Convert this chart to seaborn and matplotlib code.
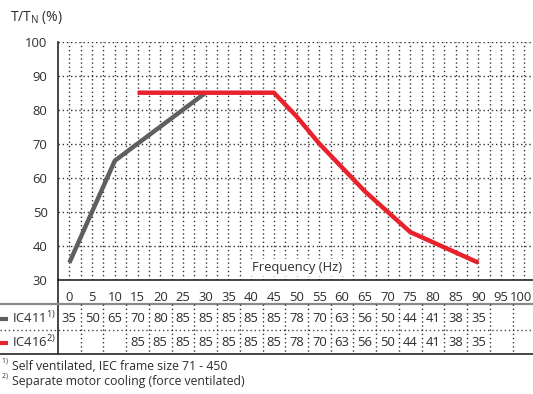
import numpy as np
import pandas as pd
import matplotlib
matplotlib.use("Agg")
import matplotlib.pyplot as plt
import matplotlib.transforms as mtransforms
from matplotlib.lines import Line2D
import seaborn as sns

# Data
table_freq = [0, 5, 10, 15, 20, 25, 30, 35, 40, 45, 50, 55, 60, 65, 70, 75, 80, 85, 90]
ic411_table = [35, 50, 65, 70, 80, 85, 85, 85, 85, 85, 78, 70, 63, 56, 50, 44, 41, 38, 35]
ic416_table = [None, None, None, 85, 85, 85, 85, 85, 85, 85, 78, 70, 63, 56, 50, 44, 41, 38, 35]

# curves as drawn in the chart
ic411_freq = [0, 10, 30]
ic411_curve = [35, 65, 85]
ic416_freq = [15, 20, 25, 30, 35, 40, 45, 50, 55, 60, 65, 70, 75, 80, 85, 90]
ic416_curve = [85, 85, 85, 85, 85, 85, 85, 78, 70, 63, 56, 50, 44, 41, 38, 35]

x_ticks = list(range(0, 101, 5))
y_ticks = list(range(30, 101, 10))

GRAY = "#5f5f5f"
RED = "#e8212c"
DARK = "#262626"
TXT = "#2e2e2e"
FS = 9.4

sns.set_style("white")
plt.rcParams['font.family'] = ['Open Sans', 'DejaVu Sans']
plt.rcParams['mathtext.fontset'] = 'custom'
plt.rcParams['mathtext.rm'] = 'Open Sans'

W, H = 533, 394
fig = plt.figure(figsize=(W / 100, H / 100), dpi=100)


def fy(py):
    return 1 - py / H


def fx(px):
    return px / W


ax = fig.add_axes([fx(58), fy(279.7), fx(533 - 58), (279.7 - 41.7) / H])

df411 = pd.DataFrame({"freq": ic411_freq, "torque": ic411_curve})
df416 = pd.DataFrame({"freq": ic416_freq, "torque": ic416_curve})
sns.lineplot(data=df411, x="freq", y="torque", ax=ax, color=GRAY, lw=3.2,
             solid_capstyle="butt", zorder=3)
sns.lineplot(data=df416, x="freq", y="torque", ax=ax, color=RED, lw=3.2,
             solid_capstyle="butt", zorder=4)

ax.set_xlim(-2.5, 102)
ax.set_ylim(30, 100)
ax.set_xticks(x_ticks)
ax.set_xticks(np.arange(2.5, 101, 5), minor=True)
ax.set_yticks(y_ticks)
ax.set_xlabel("")
ax.set_ylabel("")

dots = (0, (1, 2))
ax.grid(True, which="both", axis="x", ls=dots, lw=1.0, color="#333333")
ax.grid(True, which="major", axis="y", ls=dots, lw=1.0, color="#333333")
ax.set_axisbelow(True)

for s in ["top", "right"]:
    ax.spines[s].set_visible(False)
for s in ["left", "bottom"]:
    ax.spines[s].set_color(DARK)
    ax.spines[s].set_linewidth(1.2)

ax.tick_params(axis="both", which="major", direction="out", length=4.5, width=1,
               color=DARK, labelsize=FS, labelcolor=TXT)
ax.tick_params(axis="x", which="minor", length=0)
ax.tick_params(axis="x", pad=3.5)
ax.tick_params(axis="y", pad=3)

# keep the "100" label inside the picture
last = ax.get_xticklabels()[-1]
last.set_transform(last.get_transform() +
                   mtransforms.ScaledTranslation(-0.025, 0, fig.dpi_scale_trans))

ax.text(50, 33.6, "Frequency (Hz)", ha="center", va="center", fontsize=FS,
        color=TXT, zorder=5,
        bbox=dict(facecolor="white", edgecolor="none", pad=1.5))

fig.text(fx(10), fy(17), r"T/T$_{\mathregular{N}}$ (%)", ha="left", va="center",
         fontsize=10, color=TXT)

# table under the chart
blend = mtransforms.blended_transform_factory(ax.transData, fig.transFigure)

fig.add_artist(Line2D([fx(58), fx(58)], [fy(279), fy(354)], color=DARK, lw=1.2,
                      transform=fig.transFigure))
fig.add_artist(Line2D([0, 1], [fy(303.5), fy(303.5)], color="#8a8a8a", lw=1.6,
                      transform=fig.transFigure))
fig.add_artist(Line2D([0, 1], [fy(330), fy(330)], color="#444444", lw=1.0,
                      ls=dots, transform=fig.transFigure))
fig.add_artist(Line2D([0, 1], [fy(354), fy(354)], color=DARK, lw=1.2,
                      transform=fig.transFigure))
for xv in np.arange(2.5, 101, 5):
    fig.add_artist(Line2D([xv, xv], [fy(304), fy(354)], color="#333333", lw=1.0,
                          ls=dots, transform=blend))

for f, v in zip(table_freq, ic411_table):
    fig.text(f, fy(318.5), str(v), transform=blend, ha="center", va="center",
             fontsize=FS, color=TXT)
for f, v in zip(table_freq, ic416_table):
    if v is not None:
        fig.text(f, fy(342.5), str(v), transform=blend, ha="center", va="center",
                 fontsize=FS, color=TXT)

fig.add_artist(Line2D([0, fx(8)], [fy(318.5), fy(318.5)], color=GRAY, lw=3,
                      solid_capstyle="butt", transform=fig.transFigure))
fig.add_artist(Line2D([0, fx(8)], [fy(342.5), fy(342.5)], color=RED, lw=3,
                      solid_capstyle="butt", transform=fig.transFigure))
fig.text(fx(11.5), fy(318.5), r"IC411$^{\mathregular{1)}}$", ha="left", va="center",
         fontsize=FS, color=TXT)
fig.text(fx(11.5), fy(342.5), r"IC416$^{\mathregular{2)}}$", ha="left", va="center",
         fontsize=FS, color=TXT)

# footnotes
fig.text(fx(1), fy(364), r"$^{\mathregular{1)}}$", ha="left", va="center",
         fontsize=7, color=TXT)
fig.text(fx(1), fy(379), r"$^{\mathregular{2)}}$", ha="left", va="center",
         fontsize=7, color=TXT)
fig.text(fx(11.5), fy(367), "Self ventilated, IEC frame size 71 - 450",
         ha="left", va="center", fontsize=8.8, color=TXT)
fig.text(fx(11.5), fy(382), "Separate motor cooling (force ventilated)",
         ha="left", va="center", fontsize=8.8, color=TXT)

fig.savefig("out.png", dpi=100)
